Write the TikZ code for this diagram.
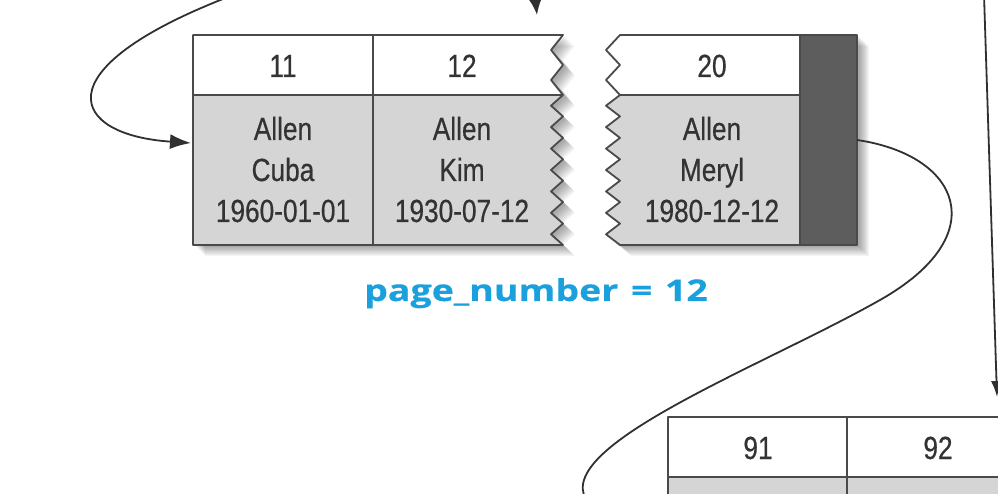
\documentclass[tikz,border=0pt]{standalone}
\usepackage{fontspec}
\usetikzlibrary{arrows.meta}
\newfontfamily\condfont{Liberation Sans}[FakeStretch=0.82,FakeBold=0.5]
\newfontfamily\bluefont{Open Sans}[FakeStretch=1.25,WordSpace=1.3,FakeBold=0.4]
\definecolor{cellgray}{HTML}{D5D5D5}
\definecolor{darkcol}{HTML}{5D5D5D}
\definecolor{edgecol}{HTML}{4A4A4A}
\definecolor{txtcol}{HTML}{333333}
\definecolor{conncol}{HTML}{303030}
\definecolor{pageblue}{HTML}{1AA0DC}
\tikzset{
  b1path/.style={insert path={(193,35) -- (563,35) -- (551,50) -- (563,65) -- (551,80) -- (563,95) -- (551,105.7) -- (563,116.4) -- (551,127.1) -- (563,137.9) -- (551,148.6) -- (563,159.3) -- (551,170) -- (563,180.7) -- (551,191.4) -- (563,202.1) -- (551,212.9) -- (563,223.6) -- (551,234.3) -- (563,245) -- (193,245) -- cycle}},
  b2path/.style={insert path={(620,35) -- (857,35) -- (857,245) -- (620,245) -- (606,234.3) -- (620,223.6) -- (606,212.9) -- (620,202.1) -- (606,191.4) -- (620,180.7) -- (606,170) -- (620,159.3) -- (606,148.6) -- (620,137.9) -- (606,127.1) -- (620,116.4) -- (606,105.7) -- (620,95) -- (606,80) -- (620,65) -- (606,50) -- cycle}},
  b3path/.style={insert path={(668,417) rectangle (1010,520)}},
  outline/.style={draw=edgecol,line width=1.8pt,line join=round},
  conn/.style={draw=conncol,line width=1.8pt},
  lbl/.style={font=\condfont\fontsize{32}{38}\selectfont,text=txtcol,anchor=base,inner sep=0pt},
  bluelbl/.style={font=\bluefont\bfseries\fontsize{30}{35}\selectfont,text=pageblue,anchor=base,inner sep=0pt}
}
\begin{document}
\begin{tikzpicture}[x=1pt,y=-1pt]
\useasboundingbox (0,0) rectangle (998,494);
% shadows
\foreach \i in {1,...,9}{
  \fill[black,opacity=0.045,shift={(2+1.1*\i,1+1.1*\i)},b1path];
  \fill[black,opacity=0.045,shift={(2+1.1*\i,1+1.1*\i)},b2path];
}
% box 1
\fill[cellgray,b1path];
\begin{scope}
  \clip (0,0) rectangle (998,95);
  \fill[white,b1path];
\end{scope}
\draw[outline] (193,95) -- (563,95);
\draw[outline] (373,35) -- (373,245);
\draw[outline,b1path];
% box 2
\fill[cellgray,b2path];
\begin{scope}
  \clip (0,0) rectangle (998,95);
  \fill[white,b2path];
\end{scope}
\fill[darkcol] (800,35) rectangle (857,245);
\draw[outline] (620,95) -- (800,95);
\draw[outline] (800,35) -- (800,245);
\draw[outline,b2path];
% box 3
\fill[cellgray,b3path];
\fill[white] (668,417) rectangle (1010,477);
\draw[outline] (668,477) -- (1010,477);
\draw[outline] (847,417) -- (847,520);
\draw[outline,b3path];
% texts
\node[lbl] (h11) at (283,77) {11};
\node[lbl] (h12) at (462,77) {12};
\node[lbl] (h20) at (712,77) {20};
\node[lbl] (a1) at (283,140) {Allen};
\node[lbl] (a2) at (283,181) {Cuba};
\node[lbl] (a3) at (283,222) {1960-01-01};
\node[lbl] (k1) at (462,140) {Allen};
\node[lbl] (k2) at (462,181) {Kim};
\node[lbl] (k3) at (462,222) {1930-07-12};
\node[lbl] (m1) at (712,140) {Allen};
\node[lbl] (m2) at (712,181) {Meryl};
\node[lbl] (m3) at (712,222) {1980-12-12};
\node[lbl] (h91) at (758,459) {91};
\node[lbl] (h92) at (938,459) {92};
\node[bluelbl] (pn) at (536,301) {page\_number = 12};
% connectors
\coordinate (srcA) at (228,-3);
\coordinate (b1in) at (191,143);
\coordinate (srcB) at (534,-14);
\coordinate (b1top) at (537,15);
\coordinate (b2out) at (857,140);
\coordinate (bend) at (880,300);
\coordinate (endC) at (590,505);
\coordinate (srcD) at (984,-5);
\coordinate (b3in) at (997,397);
\draw[conn,-{Latex[length=21pt,width=15pt]}] (srcA) .. controls (40,70) and (70,135) .. (b1in);
\draw[conn,-{Latex[length=16pt,width=13pt]}] (srcB) -- (b1top);
\draw[conn] (b2out) .. controls (960,155) and (995,235) .. (bend) .. controls (760,368) and (540,450) .. (endC);
\draw[conn,-{Latex[length=16pt,width=11pt]}] (srcD) -- (b3in);
\end{tikzpicture}
\end{document}
